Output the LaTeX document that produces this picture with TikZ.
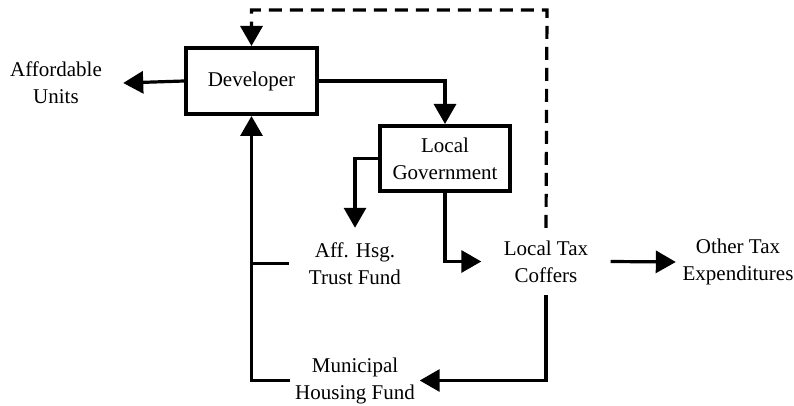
\documentclass[tikz,border=0pt]{standalone}
\usepackage{fontspec}
\setmainfont{Liberation Serif}
\usetikzlibrary{arrows.meta}
\begin{document}
\begin{tikzpicture}[x=1pt,y=-1pt,
  box/.style={draw,line width=4pt,inner sep=0pt,align=center,font=\fontsize{21}{27}\selectfont},
  lbl/.style={inner sep=0pt,align=center,font=\fontsize{21}{27}\selectfont},
  conn/.style={line width=3.2pt},
  arr/.style={conn,-{Triangle[length=20pt,width=22pt]}},
  dashy/.style={dash pattern=on 13pt off 8pt}]
\useasboundingbox (0,0) rectangle (794,406);
\node[box,minimum width=131pt,minimum height=66pt] (dev) at (251.5,81) {Developer};
\node[box,minimum width=130pt,minimum height=65pt] (lg) at (445,158.5) {Local\\Government};
\node[lbl,minimum width=134pt] (au) at (56,83) {Affordable\\Units};
\node[lbl,minimum width=132pt,minimum height=71pt] (aff) at (355,263.5) {Aff. Hsg.\\Trust Fund};
\node[lbl,minimum width=129pt,minimum height=67pt] (ltc) at (546,261.5) {Local Tax\\Coffers};
\node[lbl,minimum width=124pt] (ote) at (738,262) {Other Tax\\Expenditures};
\node[lbl,minimum width=129pt] (mhf) at (355,380.5) {Municipal\\Housing Fund};
\coordinate (top) at (547,10);
\draw[arr] (dev.west) -- (au.east);
\draw[arr] (dev.east) -| (lg.north);
\draw[arr] (lg.west) -| (aff.north);
\draw[arr] (lg.south) |- (ltc.west);
\draw[arr] (ltc.east) -- (ote.west);
\draw[arr] (ltc.south) |- (mhf.east);
\draw[arr] (mhf.west) -| (dev.south);
\draw[conn] (aff.west) -- (aff.west -| dev.south);
\draw[arr,dashy] (ltc.north) -- (top) -| (dev.north);
\end{tikzpicture}
\end{document}
